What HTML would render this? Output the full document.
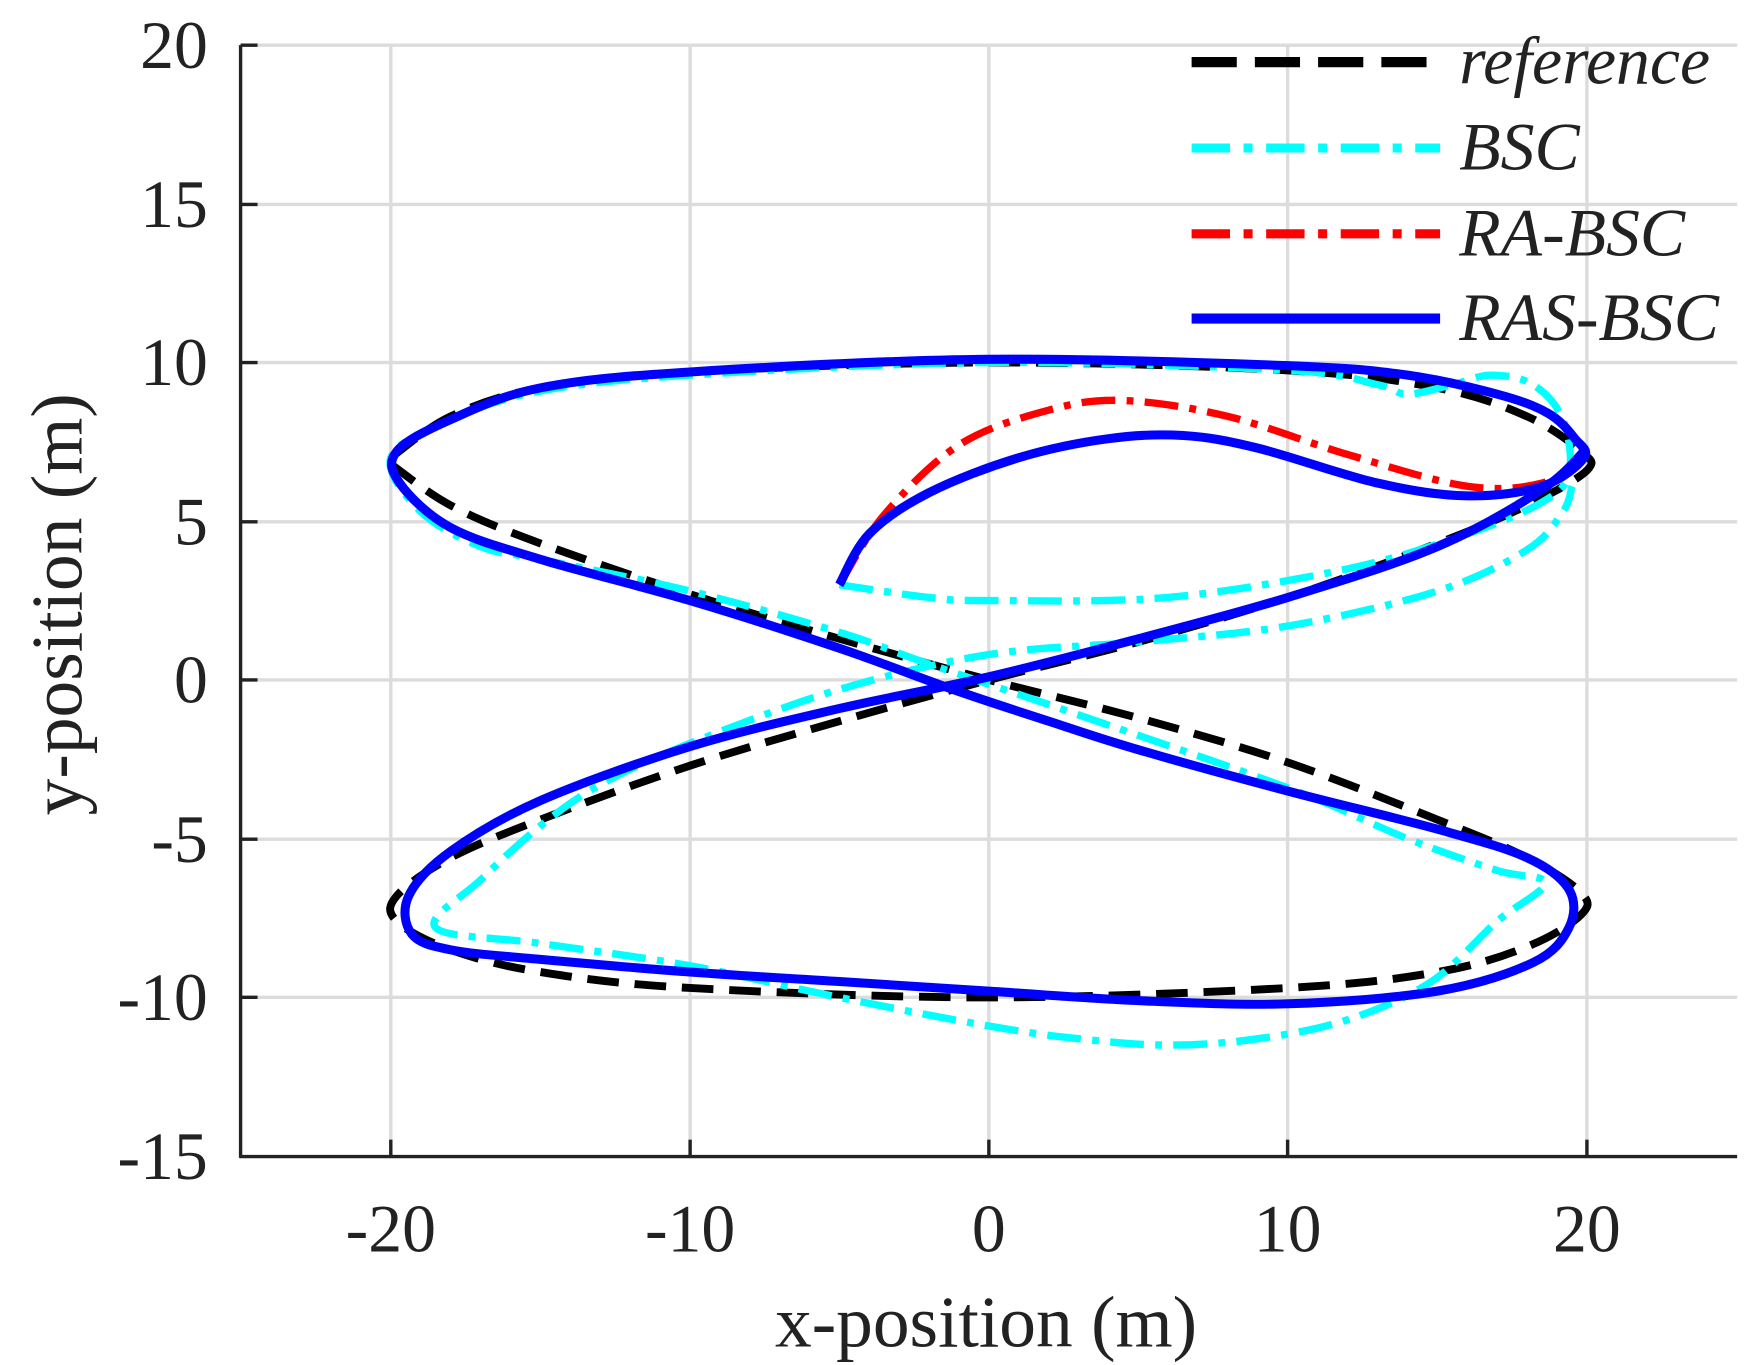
<!DOCTYPE html>
<html><head><meta charset="utf-8"><style>
html,body{margin:0;padding:0;background:#fff;}
svg{display:block;}
text{font-family:"Liberation Serif",serif;fill:#222;}
</style></head><body>
<svg id="s" width="1762" height="1365" viewBox="0 0 1560 1208.5" xmlns="http://www.w3.org/2000/svg">
<rect width="1560" height="1208.5" fill="#fff"/>
<g stroke="#dcdcdc" stroke-width="3">
<line x1="346" y1="40" x2="346" y2="1024"/><line x1="611" y1="40" x2="611" y2="1024"/>
<line x1="875.5" y1="40" x2="875.5" y2="1024"/><line x1="1140" y1="40" x2="1140" y2="1024"/>
<line x1="1405" y1="40" x2="1405" y2="1024"/>
<line x1="213" y1="40" x2="1538" y2="40"/><line x1="213" y1="181" x2="1538" y2="181"/>
<line x1="213" y1="321" x2="1538" y2="321"/><line x1="213" y1="462" x2="1538" y2="462"/>
<line x1="213" y1="602" x2="1538" y2="602"/><line x1="213" y1="743" x2="1538" y2="743"/>
<line x1="213" y1="883" x2="1538" y2="883"/>
</g>
<g id="curves" fill="none" stroke-linejoin="round"></g>
<g stroke="#222" stroke-width="3">
<line x1="213" y1="40" x2="213" y2="1025"/><line x1="212" y1="1024" x2="1538" y2="1024"/>
<line x1="213" y1="40" x2="228" y2="40"/><line x1="213" y1="181" x2="228" y2="181"/>
<line x1="213" y1="321" x2="228" y2="321"/><line x1="213" y1="462" x2="228" y2="462"/>
<line x1="213" y1="602" x2="228" y2="602"/><line x1="213" y1="743" x2="228" y2="743"/>
<line x1="213" y1="883" x2="228" y2="883"/>
<line x1="346" y1="1024" x2="346" y2="1009"/><line x1="611" y1="1024" x2="611" y2="1009"/>
<line x1="875.5" y1="1024" x2="875.5" y2="1009"/><line x1="1140" y1="1024" x2="1140" y2="1009"/>
<line x1="1405" y1="1024" x2="1405" y2="1009"/>
</g>
<g font-size="60" text-anchor="end">
<text x="184" y="60">20</text><text x="184" y="201">15</text><text x="184" y="341">10</text>
<text x="184" y="482">5</text><text x="184" y="622">0</text><text x="184" y="763">-5</text>
<text x="184" y="903">-10</text><text x="184" y="1044">-15</text>
</g>
<g font-size="60" text-anchor="middle">
<text x="346" y="1108">-20</text><text x="611" y="1108">-10</text><text x="875.5" y="1108">0</text>
<text x="1140" y="1108">10</text><text x="1405" y="1108">20</text>
</g>
<text x="873" y="1192" font-size="65" text-anchor="middle">x-position (m)</text>
<text transform="translate(72,535) rotate(-90)" font-size="65" text-anchor="middle">y-position (m)</text>
<g fill="none">
<line x1="1055" y1="55" x2="1275" y2="55" stroke="#000" stroke-width="9" stroke-dasharray="40 16"/>
<line x1="1055" y1="131" x2="1275" y2="131" stroke="#00ffff" stroke-width="8" stroke-dasharray="34 12 8 12"/>
<line x1="1055" y1="207" x2="1275" y2="207" stroke="#ff0000" stroke-width="8" stroke-dasharray="34 12 8 12"/>
<line x1="1055" y1="282" x2="1275" y2="282" stroke="#0000ff" stroke-width="9"/>
</g>
<g font-size="60" font-style="italic">
<text x="1292" y="74">reference</text><text x="1292" y="150">BSC</text>
<text x="1292" y="226">RA-BSC</text><text x="1292" y="301">RAS-BSC</text>
</g>
</svg>
<script>
function P(x,y){return [875.5+x*26.475, 602-y*28.11];}
function path(pts){
  pts=pts.map(p=>P(p[0],p[1]));
  let d="M"+pts[0][0].toFixed(1)+","+pts[0][1].toFixed(1);
  for(let i=0;i<pts.length-1;i++){
    const p0=pts[Math.max(0,i-1)],p1=pts[i],p2=pts[i+1],p3=pts[Math.min(pts.length-1,i+2)];
    const c1=[p1[0]+(p2[0]-p0[0])/6,p1[1]+(p2[1]-p0[1])/6];
    const c2=[p2[0]-(p3[0]-p1[0])/6,p2[1]-(p3[1]-p1[1])/6];
    d+=" C"+c1.map(v=>v.toFixed(1))+" "+c2.map(v=>v.toFixed(1))+" "+p2.map(v=>v.toFixed(1));
  }
  return d;
}
const g=document.getElementById("curves");
function add(pts,color,w,dash){
  const e=document.createElementNS("http://www.w3.org/2000/svg","path");
  e.setAttribute("d",path(pts));e.setAttribute("stroke",color);e.setAttribute("stroke-width",w);
  if(dash)e.setAttribute("stroke-dasharray",dash);
  e.setAttribute("stroke-linecap","butt");
  g.appendChild(e);
}
const ref=[[-20,7],[-18,8.3],[-15,9.2],[-10,9.7],[0,10],[10,9.75],[15,9.2],[18,8.3],[19.8,7.2],[20,6.6],[18,5.5],[15,4.3],[10,2.6],[5,1.2],[0,0],[-5,-1.3],[-10,-2.7],[-15,-4.4],[-18,-5.6],[-19.8,-6.8],[-19.8,-7.6],[-18,-8.5],[-15,-9.2],[-10,-9.7],[0,-10],[10,-9.7],[15,-9.2],[18,-8.4],[19.8,-7.4],[19.8,-6.7],[18,-5.6],[15,-4.4],[10,-2.6],[5,-1.2],[0,0],[-5,1.3],[-10,2.7],[-15,4.3],[-18,5.5],[-20,6.8]];
const bsc=[[-5,3],[-2,2.6],[0,2.5],[6,2.6],[12,3.5],[16,4.6],[18.5,5.6],[19.4,6.5],[19.2,8.2],[18.2,9.3],[16.8,9.6],[15.5,9.3],[14,9],[13,9.3],[10,9.75],[0,10],[-10,9.6],[-15,9.1],[-18,8.2],[-20,7],[-19,5.3],[-17,4.2],[-15,3.8],[-10,2.8],[-5,1.5],[-2,0.5],[3,-1.1],[10,-3.4],[14,-5],[17,-6],[18.6,-6.4],[17,-7.6],[14.8,-9.5],[12,-10.7],[9,-11.3],[6,-11.5],[3,-11.3],[0,-10.9],[-5,-10],[-10,-9],[-15,-8.3],[-18.5,-7.8],[-17,-6.3],[-15,-4.6],[-13,-3.3],[-10,-2],[-5,-0.3],[0,0.8],[5,1.2],[10,1.7],[15,2.8],[18,4.1],[19.2,5.3],[19.5,6.1]];
const tail=[[19.6,7.6],[18.7,8.4],[17,9],[14,9.6],[10,9.9],[0,10.1],[-10,9.7],[-15,9.2],[-18,8.2],[-19.8,7.2],[-19.7,6.2],[-18,4.8],[-15,3.8],[-10,2.5],[-5,1],[-1.2,-0.3],[2,-1.3],[5,-2.2],[10,-3.5],[15,-4.7],[18,-5.6],[19.4,-6.6],[19.4,-7.8],[18.2,-8.9],[15,-9.8],[10,-10.2],[5,-10.1],[0,-9.8],[-5,-9.5],[-10,-9.2],[-15,-8.8],[-18,-8.5],[-19.3,-8],[-19.4,-6.8],[-18,-5.4],[-15,-3.8],[-10,-2.1],[-5,-0.9],[0,0.1],[5,1.3],[10,2.6],[15,4.2],[18.5,6],[20,7.3]];
const ra=[[-5,3],[-3.5,5.2],[-1,7.4],[2,8.5],[4.5,8.8],[8,8.3],[12,7.1],[16,6.1],[18.5,6.2],[19.8,7]].concat(tail);
const ras=[[-5,3],[-4,4.6],[-2,5.9],[1,7],[4,7.6],[6.5,7.7],[9,7.3],[13,6.2],[16,5.8],[18.5,6.1],[19.9,7]].concat(tail);
add(ref,"#000",7,"28 14");
add(bsc,"#00ffff",6.5,"30 10 6 10");
add(ra,"#ff0000",6.5,"30 10 6 10");
add(ras,"#0000ff",8);
</script>
</body></html>
